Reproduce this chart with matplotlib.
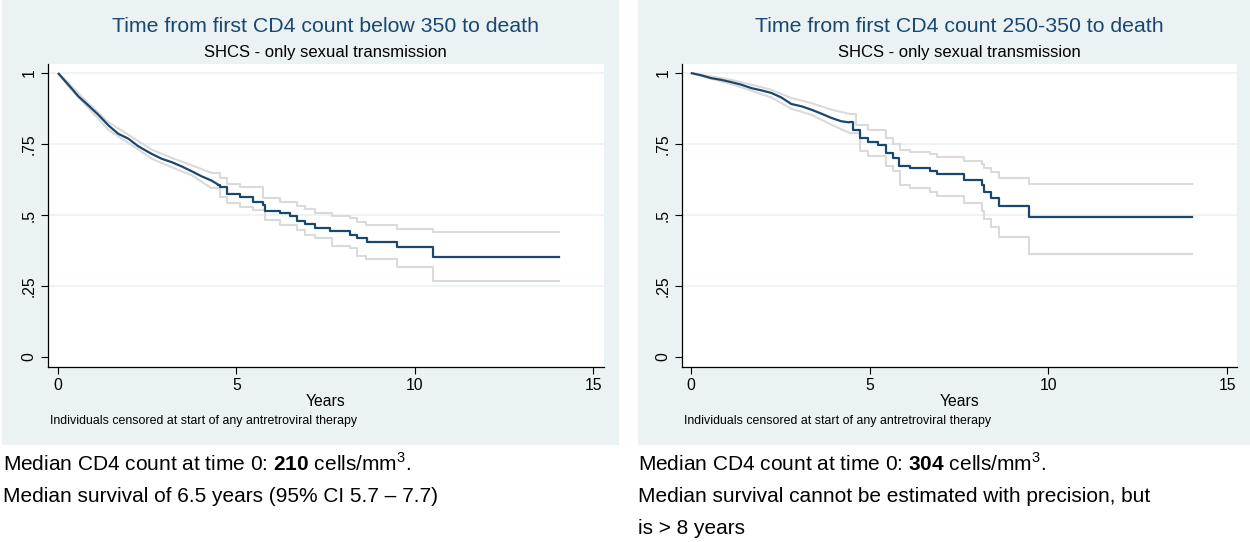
"""
Kaplan-Meier survival, time from first CD4 count to death (SHCS)
"""
import matplotlib
matplotlib.use('Agg')
import matplotlib.pyplot as plt

plt.rcParams['font.family'] = ['Liberation Sans', 'DejaVu Sans']
plt.rcParams['mathtext.fontset'] = 'custom'
plt.rcParams['mathtext.rm'] = 'Liberation Sans'
plt.rcParams['mathtext.bf'] = 'Liberation Sans:bold'

# ---- data ----
# left: first CD4 count below 350
left_t = [0, 0.29, 0.57, 0.85, 1.13, 1.41, 1.69, 1.97, 2.25, 2.63, 2.91, 3.19, 3.47, 3.75,
          4.03, 4.31, 4.49, 4.54, 4.73, 5.10, 5.48, 5.76, 5.80, 6.22, 6.50, 6.69, 6.92,
          7.20, 7.63, 8.19, 8.37, 8.65, 9.50, 10.50, 14.04]
left_s = [1, 0.959, 0.918, 0.886, 0.853, 0.816, 0.786, 0.769, 0.742, 0.715, 0.698, 0.686,
          0.671, 0.654, 0.636, 0.621, 0.607, 0.597, 0.574, 0.562, 0.547, 0.535, 0.514,
          0.506, 0.498, 0.480, 0.468, 0.453, 0.445, 0.430, 0.418, 0.406, 0.386, 0.353, 0.353]
left_hi_t = [0, 0.29, 0.85, 1.41, 1.97, 2.63, 3.19, 3.75, 4.31, 4.54, 4.73, 5.10, 5.76,
             6.22, 6.69, 6.92, 7.20, 7.67, 8.19, 8.39, 8.63, 9.50, 10.50, 14.04]
left_hi = [1, 0.965, 0.894, 0.827, 0.783, 0.730, 0.701, 0.675, 0.648, 0.629, 0.611, 0.597,
           0.559, 0.547, 0.532, 0.520, 0.508, 0.496, 0.491, 0.476, 0.464, 0.452, 0.441, 0.441]
left_lo_t = [0, 0.29, 0.85, 1.41, 1.97, 2.63, 3.19, 3.75, 4.31, 4.54, 4.73, 5.10, 5.48,
             5.80, 6.22, 6.69, 6.92, 7.20, 7.67, 8.19, 8.39, 8.63, 9.50, 10.50, 14.04]
left_lo = [1, 0.953, 0.877, 0.800, 0.754, 0.698, 0.668, 0.640, 0.594, 0.564, 0.543, 0.529,
           0.518, 0.482, 0.465, 0.447, 0.430, 0.418, 0.392, 0.383, 0.356, 0.344, 0.318,
           0.269, 0.269]

# right: first CD4 count 250-350
right_t = [0, 0.29, 0.57, 0.85, 1.13, 1.41, 1.69, 1.97, 2.25, 2.53, 2.81, 3.09, 3.37, 3.65,
           3.93, 4.21, 4.44, 4.53, 4.72, 4.95, 5.23, 5.47, 5.66, 5.83, 6.13, 6.69, 6.89,
           7.64, 8.15, 8.20, 8.38, 8.62, 9.46, 14.01]
right_s = [1, 0.992, 0.982, 0.976, 0.968, 0.959, 0.947, 0.939, 0.930, 0.914, 0.891, 0.883,
           0.871, 0.857, 0.842, 0.830, 0.826, 0.800, 0.771, 0.757, 0.745, 0.718, 0.700,
           0.673, 0.664, 0.656, 0.643, 0.623, 0.606, 0.582, 0.559, 0.533, 0.492, 0.492]
right_hi_t = [0, 0.57, 1.13, 1.69, 2.25, 2.81, 3.37, 3.93, 4.44, 4.63, 4.95, 5.47, 5.66,
              5.85, 6.13, 6.69, 6.89, 7.64, 8.15, 8.20, 8.38, 8.62, 9.46, 14.01]
right_hi = [1, 0.988, 0.976, 0.959, 0.941, 0.912, 0.894, 0.871, 0.856, 0.818, 0.800, 0.771,
            0.750, 0.729, 0.723, 0.715, 0.705, 0.691, 0.680, 0.664, 0.650, 0.631, 0.608, 0.608]
right_lo_t = [0, 0.57, 1.13, 1.69, 2.25, 2.81, 3.37, 3.93, 4.44, 4.72, 4.95, 5.47, 5.66,
              5.85, 6.13, 6.69, 6.89, 7.64, 8.15, 8.20, 8.38, 8.62, 9.46, 14.01]
right_lo = [1, 0.980, 0.961, 0.938, 0.914, 0.874, 0.853, 0.818, 0.789, 0.724, 0.707, 0.671,
            0.655, 0.606, 0.594, 0.582, 0.567, 0.543, 0.515, 0.486, 0.457, 0.421, 0.363, 0.363]

titles = ['Time from first CD4 count below 350 to death',
          'Time from first CD4 count 250-350 to death']
subtitle = 'SHCS - only sexual transmission'
note = 'Individuals censored at start of any antretroviral therapy'
yticks = [0, 0.25, 0.5, 0.75, 1]
ytick_labels = ['0', '.25', '.5', '.75', '1']
xticks = [0, 5, 10, 15]

captions = [
    [r'Median CD4 count at time 0: $\mathbf{210}$ cells/mm$^{3}$.',
     'Median survival of 6.5 years (95% CI 5.7 \u2013 7.7)'],
    [r'Median CD4 count at time 0: $\mathbf{304}$ cells/mm$^{3}$.',
     'Median survival cannot be estimated with precision, but',
     'is > 8 years'],
]

W, H = 1250, 542
BG = '#EAF2F3'
NAVY = '#1A476F'
CI_COL = '#DADADA'

fig = plt.figure(figsize=(W / 100, H / 100), dpi=100)
fig.patch.set_facecolor('white')


def px(x0, y0, x1, y1):
    # pixel box (top-left origin) -> figure fraction rect
    return [x0 / W, 1 - y1 / H, (x1 - x0) / W, (y1 - y0) / H]


def km(ax, t, s, split, **kw):
    # dense early part has tiny steps -> draw as a line, then real steps
    k = max(i for i, v in enumerate(t) if v <= split)
    ax.plot(t[:k + 1], s[:k + 1], solid_capstyle='butt', **kw)
    ax.step(t[k:], s[k:], where='post', **kw)


panels = [
    dict(bg=(2, 0, 619, 445), ax=(47.7, 63.5, 604, 366.7), xlim=(-0.289, 15.307),
         t=left_t, s=left_s, ht=left_hi_t, hi=left_hi, lt=left_lo_t, lo=left_lo,
         split=4.5, cap_x=3),
    dict(bg=(638, 0, 1250, 445), ax=(681.7, 63.5, 1237.3, 366.7), xlim=(-0.254, 15.28),
         t=right_t, s=right_s, ht=right_hi_t, hi=right_hi, lt=right_lo_t, lo=right_lo,
         split=4.45, cap_x=638),
]

for i, p in enumerate(panels):
    bg = fig.add_axes(px(*p['bg']))
    bg.set_facecolor(BG)
    bg.set_xticks([])
    bg.set_yticks([])
    for sp in bg.spines.values():
        sp.set_visible(False)

    ax = fig.add_axes(px(*p['ax']))
    ax.set_facecolor('white')
    for yv in yticks[1:]:
        ax.axhline(yv, color=BG, lw=1.2, zorder=1)
    km(ax, p['ht'], p['hi'], p['split'], color=CI_COL, lw=1.5, zorder=2)
    km(ax, p['lt'], p['lo'], p['split'], color=CI_COL, lw=1.5, zorder=2)
    km(ax, p['t'], p['s'], p['split'], color=NAVY, lw=1.6, zorder=3)
    ax.set_xlim(*p['xlim'])
    ax.set_ylim(-0.034, 1.0335)
    ax.set_xticks(xticks)
    ax.set_xticklabels([str(v) for v in xticks], fontsize=11.3)
    ax.set_yticks(yticks)
    ax.set_yticklabels(ytick_labels, fontsize=11.3, rotation=90, va='center')
    ax.tick_params(direction='out', length=5, width=0.8, color='black', pad=3)
    ax.spines['top'].set_visible(False)
    ax.spines['right'].set_visible(False)
    ax.spines['left'].set_linewidth(0.9)
    ax.spines['bottom'].set_linewidth(0.9)

    x0, _, x1, _ = p['ax']
    cx = (x0 + x1) / 2 / W
    fig.text(cx, 1 - 26.7 / H, titles[i], ha='center', va='center', fontsize=15.3, color=NAVY)
    fig.text(cx, 1 - 52 / H, subtitle, ha='center', va='center', fontsize=12, color='black')
    fig.text(cx, 1 - 401 / H, 'Years', ha='center', va='center', fontsize=11.3)
    fig.text((x0 + 2.5) / W, 1 - 421 / H, note, ha='left', va='center', fontsize=8.9)

    # captions under each panel
    for j, line in enumerate(captions[i]):
        fig.text(p['cap_x'] / W, 1 - (464 + 32 * j) / H, line, ha='left', va='center',
                 fontsize=15)

fig.savefig('out.png', dpi=100)
